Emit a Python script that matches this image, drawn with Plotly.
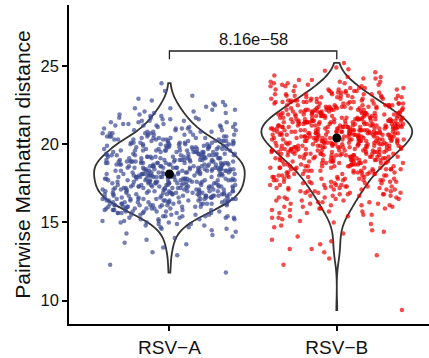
import numpy as np
import plotly.graph_objects as go

# ---------------- data (frequency table) ----------------
groups = ["RSV-A", "RSV-B"]
tick_labels = ["RSV\u2212A", "RSV\u2212B"]
y_ticks = [10, 15, 20, 25]
p_label = "8.16e\u221258"

distance_levels = [
    9.4, 9.5, 9.6, 9.7, 9.8, 9.9, 10.0, 10.1, 10.2, 10.3,
    10.4, 10.5, 10.6, 10.7, 10.8, 10.9, 11.0, 11.1, 11.2, 11.3,
    11.4, 11.5, 11.6, 11.7, 11.8, 11.9, 12.0, 12.1, 12.2, 12.3,
    12.4, 12.5, 12.6, 12.7, 12.8, 12.9, 13.0, 13.1, 13.2, 13.3,
    13.4, 13.5, 13.6, 13.7, 13.8, 13.9, 14.0, 14.1, 14.2, 14.3,
    14.4, 14.5, 14.6, 14.7, 14.8, 14.9, 15.0, 15.1, 15.2, 15.3,
    15.4, 15.5, 15.6, 15.7, 15.8, 15.9, 16.0, 16.1, 16.2, 16.3,
    16.4, 16.5, 16.6, 16.7, 16.8, 16.9, 17.0, 17.1, 17.2, 17.3,
    17.4, 17.5, 17.6, 17.7, 17.8, 17.9, 18.0, 18.1, 18.2, 18.3,
    18.4, 18.5, 18.6, 18.7, 18.8, 18.9, 19.0, 19.1, 19.2, 19.3,
    19.4, 19.5, 19.6, 19.7, 19.8, 19.9, 20.0, 20.1, 20.2, 20.3,
    20.4, 20.5, 20.6, 20.7, 20.8, 20.9, 21.0, 21.1, 21.2, 21.3,
    21.4, 21.5, 21.6, 21.7, 21.8, 21.9, 22.0, 22.1, 22.2, 22.3,
    22.4, 22.5, 22.6, 22.7, 22.8, 22.9, 23.0, 23.1, 23.2, 23.3,
    23.4, 23.5, 23.6, 23.7, 23.8, 23.9, 24.0, 24.1, 24.2, 24.3,
    24.4, 24.5, 24.6, 24.7, 24.8, 24.9, 25.0, 25.1, 25.2,
]

counts_rsv_a = [
    0, 0, 0, 0, 0, 0, 0, 0, 0, 0,
    0, 0, 0, 0, 0, 0, 0, 0, 0, 0,
    0, 0, 0, 0, 1, 0, 0, 0, 0, 1,
    0, 0, 0, 0, 0, 1, 0, 1, 0, 0,
    1, 0, 1, 1, 0, 1, 1, 1, 1, 1,
    1, 1, 2, 2, 2, 3, 3, 3, 4, 4,
    5, 5, 6, 6, 7, 7, 8, 8, 9, 9,
    10, 10, 10, 11, 10, 11, 11, 11, 11, 11,
    11, 11, 11, 12, 11, 12, 11, 11, 11, 12,
    11, 12, 11, 12, 11, 12, 11, 10, 10, 10,
    9, 9, 9, 9, 9, 8, 9, 8, 8, 7,
    6, 6, 5, 5, 5, 4, 4, 4, 4, 4,
    3, 3, 3, 3, 2, 2, 2, 2, 2, 2,
    1, 2, 1, 1, 1, 1, 0, 1, 0, 0,
    1, 0, 0, 0, 0, 1, 0, 0, 0, 0,
    0, 0, 0, 0, 0, 0, 0, 0, 0,
]

counts_rsv_b = [
    1, 0, 0, 0, 0, 0, 0, 0, 0, 0,
    0, 0, 0, 0, 0, 0, 0, 0, 0, 0,
    0, 0, 0, 0, 0, 0, 0, 0, 0, 1,
    0, 0, 0, 1, 0, 1, 0, 1, 0, 2,
    0, 0, 1, 0, 1, 1, 0, 1, 0, 1,
    1, 1, 0, 1, 1, 1, 1, 1, 1, 2,
    2, 2, 2, 2, 2, 3, 3, 3, 3, 3,
    3, 3, 4, 4, 4, 4, 4, 5, 5, 5,
    5, 5, 5, 6, 6, 6, 6, 6, 7, 7,
    7, 7, 8, 8, 8, 9, 9, 9, 10, 10,
    10, 10, 11, 11, 11, 12, 12, 12, 12, 13,
    13, 13, 14, 14, 14, 13, 14, 13, 13, 13,
    13, 12, 12, 12, 11, 11, 10, 10, 10, 9,
    9, 8, 8, 8, 7, 7, 6, 6, 6, 5,
    5, 4, 4, 4, 3, 3, 3, 2, 2, 2,
    1, 0, 1, 1, 1, 1, 0, 0, 1,
]

# ---------------- styling ----------------
point_colors = ["rgba(59,73,146,0.7)", "rgba(238,0,0,0.7)"]
outline_color = "#333333"
font_family = "Liberation Sans, Arial, sans-serif"
jitter_half_width = 0.4   # like geom_jitter(width = 0.4)

levels = np.array(distance_levels)
samples = [np.repeat(levels, counts_rsv_a), np.repeat(levels, counts_rsv_b)]


def bw_nrd0(v):
    sd = np.std(v, ddof=1)
    q75, q25 = np.percentile(v, [75, 25])
    lo = min(sd, (q75 - q25) / 1.34)
    return 0.9 * lo * len(v) ** (-0.2)


def jitter_offsets(n, salt):
    # deterministic horizontal jitter (presentation only, like geom_jitter)
    k = np.arange(n) + 1.0 + salt * 1000.0
    h = np.sin(k * 12.9898 + salt * 78.233) * 43758.5453
    return (h - np.floor(h) - 0.5) * 2.0 * jitter_half_width


fig = go.Figure()

for i, (v, col) in enumerate(zip(samples, point_colors)):
    fig.add_trace(go.Scatter(
        x=i + jitter_offsets(len(v), i), y=v, mode="markers",
        marker=dict(color=col, size=4.5, line=dict(width=0)),
        showlegend=False, name=groups[i],
    ))

for i, v in enumerate(samples):
    fig.add_trace(go.Violin(
        x=np.full(len(v), i), y=v, points=False,
        width=0.9, scalemode="width", spanmode="hard", bandwidth=bw_nrd0(v),
        line=dict(color=outline_color, width=1.8),
        fillcolor="rgba(0,0,0,0)",
        hoverinfo="skip", showlegend=False, name=groups[i],
    ))

# summary dots (median)
fig.add_trace(go.Scatter(
    x=[0, 1], y=[float(np.median(s)) for s in samples], mode="markers",
    marker=dict(color="black", size=9), showlegend=False, hoverinfo="skip",
))

# significance bracket
ymax = max(float(s.max()) for s in samples)
bar_y = ymax + 0.76
tip_y = ymax + 0.23
fig.add_trace(go.Scatter(
    x=[0, 0, 1, 1], y=[tip_y, bar_y, bar_y, tip_y], mode="lines",
    line=dict(color="#222222", width=1.3), showlegend=False, hoverinfo="skip",
))
fig.add_annotation(
    x=0.5, y=bar_y, text=p_label, showarrow=False, yanchor="bottom",
    yshift=1, font=dict(family=font_family, size=16.5, color="#111111"),
)

fig.update_layout(
    width=429, height=358,
    margin=dict(l=69, r=0, t=5, b=34),
    paper_bgcolor="white", plot_bgcolor="white",
    violinmode="overlay",
    font=dict(family=font_family, color="#111111"),
    xaxis=dict(
        range=[-0.6, 1.551], tickvals=[0, 1], ticktext=tick_labels,
        showgrid=False, zeroline=False, showline=True, linecolor="black",
        linewidth=1.6, ticks="outside", ticklen=5, tickwidth=1.6, tickcolor="black",
        tickfont=dict(size=19, color="#111111"),
    ),
    yaxis=dict(
        range=[8.51, 28.9], tickvals=y_ticks,
        showgrid=False, zeroline=False, showline=True, linecolor="black",
        linewidth=1.6, ticks="outside", ticklen=5, tickwidth=1.6, tickcolor="black",
        tickfont=dict(size=16.5, color="#111111"),
        title=dict(text="Pairwise Manhattan distance", standoff=4,
                   font=dict(size=21, color="#111111")),
    ),
)

fig.write_html(
    "out.html",
    config={"displayModeBar": False},
    post_script="document.body.style.margin='0px';document.body.style.overflow='hidden';",
)
